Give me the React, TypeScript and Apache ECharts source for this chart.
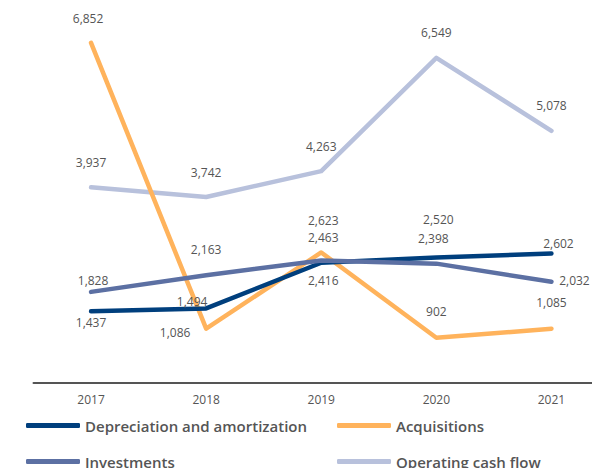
import React, { useEffect, useRef } from "react";
import * as echarts from "echarts";

const years = ["2017", "2018", "2019", "2020", "2021"];
const depreciation = [1437, 1494, 2416, 2520, 2602];
const acquisitions = [6852, 1086, 2623, 902, 1085];
const investments = [1828, 2163, 2463, 2398, 2032];
const operatingCashFlow = [3937, 3742, 4263, 6549, 5078];

const depOffsets = [[0, 11], [-14, -7], [2, 18], [2, -38], [7, -10]];
const acqOffsets = [[-3, -24], [-31, 4], [2, -32], [0, -26], [0, -26]];
const invOffsets = [[2, -11], [0, -26], [2, -23], [-3, -25], [23, -1]];
const ocfOffsets = [[0, -25], [0, -25], [0, -25], [0, -25], [0, -25]];

const FONT = "'Open Sans', 'Noto Sans', sans-serif";
const TEXT = "#555555";

function mk(name: string, values: number[], offsets: number[][], color: string, z: number) {
  return {
    name,
    type: "line",
    z,
    data: values.map((v, i) => ({
      value: v,
      label: { offset: offsets[i] },
    })),
    symbol: "circle",
    symbolSize: 2,
    showSymbol: true,
    itemStyle: { color },
    lineStyle: { color, width: 4.5, cap: "round", join: "round" },
    label: {
      show: true,
      position: "inside",
      color: TEXT,
      fontFamily: FONT,
      fontSize: 12,
      formatter: (p: any) => Number(p.value).toLocaleString("en-US"),
    },
  };
}

function legendItem(name: string, left: number, top: number) {
  return {
    data: [name],
    left,
    top,
    itemWidth: 54,
    itemHeight: 5,
    icon: "roundRect",
    textStyle: { color: TEXT, fontFamily: FONT, fontSize: 15, fontWeight: 600 },
    selectedMode: false,
    padding: 0,
  };
}

export default function App() {
  const ref = useRef<HTMLDivElement>(null);
  useEffect(() => {
    const chart = echarts.init(ref.current!, null, { renderer: "svg" });
    chart.setOption({
      animation: false,
      grid: { left: 33.5, top: 35.5, right: 0, height: 347 },
      xAxis: {
        type: "category",
        data: years,
        boundaryGap: true,
        axisLine: { lineStyle: { color: "#555555", width: 2 } },
        axisTick: { show: false },
        axisLabel: { color: TEXT, fontFamily: FONT, fontSize: 12, margin: 11 },
      },
      yAxis: {
        type: "value",
        min: 0,
        max: 7000,
        show: false,
        splitLine: { show: false },
      },
      legend: [
        legendItem("Depreciation and amortization", 26, 418),
        legendItem("Acquisitions", 337, 418),
        legendItem("Investments", 26, 454),
        legendItem("Operating cash flow", 337, 454),
      ],
      series: [
        mk("Operating cash flow", operatingCashFlow, ocfOffsets, "#b8c1dc", 1),
        mk("Acquisitions", acquisitions, acqOffsets, "#ffb35c", 2),
        mk("Depreciation and amortization", depreciation, depOffsets, "#003f7d", 3),
        mk("Investments", investments, invOffsets, "#5c70a3", 4),
      ],
    });
    return () => chart.dispose();
  }, []);
  return (
    <div style={{ position: "absolute", left: 0, top: 0, width: 592, height: 468, overflow: "hidden", background: "#ffffff" }}>
      <div ref={ref} style={{ width: 609, height: 468 }} />
    </div>
  );
}
